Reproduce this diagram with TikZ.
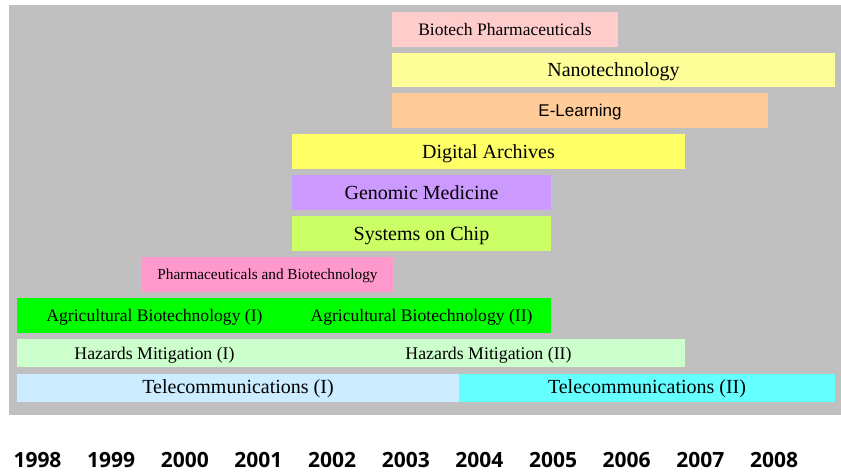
\documentclass[tikz,border=0pt]{standalone}
\usepackage{fontspec}
\setmainfont{Liberation Serif}
\newfontfamily\yearfont{Open Sans}
\newfontfamily\labelsans{Liberation Sans}

\definecolor{panelgray}{HTML}{C0C0C0}
\definecolor{biopink}{HTML}{FFCCCC}
\definecolor{nanoyellow}{HTML}{FFFF99}
\definecolor{learnorange}{HTML}{FFCC99}
\definecolor{archyellow}{HTML}{FFFF66}
\definecolor{genviolet}{HTML}{CC99FF}
\definecolor{chiplime}{HTML}{CCFF66}
\definecolor{pharmpink}{HTML}{FF99CC}
\definecolor{agrigreen}{HTML}{00FF00}
\definecolor{hazgreen}{HTML}{CCFFCC}
\definecolor{telblue}{HTML}{CCECFF}
\definecolor{telcyan}{HTML}{66FFFF}

\begin{document}
\begin{tikzpicture}[x=1pt, y=-1pt,
  bar/.style={rectangle, inner sep=0pt, text depth=0pt, text=black, font=\fontsize{20}{22}\selectfont},
  year/.style={font=\yearfont\bfseries\fontsize{21}{23}\selectfont}]

\useasboundingbox (0,0) rectangle (841,473);

% GRAY PANEL
\fill[panelgray] (9,5) rectangle (841,415);

% Top rows, starting 2003
\node[bar, fill=biopink, minimum width=226pt, minimum height=35pt,
  font=\fontsize{17.5}{20}\selectfont] (biopharm) at (505,29.5) {Biotech Pharmaceuticals};
\node[bar, fill=nanoyellow, minimum width=443pt, minimum height=34pt] (nano) at (613.5,70) {Nanotechnology};
\node[bar, fill=learnorange, minimum width=376pt, minimum height=35pt,
  font=\labelsans\fontsize{17}{19}\selectfont] (elearn) at (580,110.5) {E-Learning};

% Rows starting 2001/2002
\node[bar, fill=archyellow, minimum width=393pt, minimum height=35pt] (archives) at (488.5,151.5) {Digital Archives};
\node[bar, fill=genviolet, minimum width=259pt, minimum height=35pt] (genomic) at (421.5,192.5) {Genomic Medicine};
\node[bar, fill=chiplime, minimum width=259pt, minimum height=35pt] (chip) at (421.5,233.5) {Systems on Chip};

% Pharmaceuticals row
\node[bar, fill=pharmpink, minimum width=251pt, minimum height=35pt,
  font=\fontsize{15.3}{17}\selectfont] (pharma) at (267.5,274.5) {Pharmaceuticals and Biotechnology};

% Agricultural biotechnology, two phases
\node[bar, fill=agrigreen, minimum width=275pt, minimum height=35pt,
  font=\fontsize{17.6}{20}\selectfont] (agrione) at (154.5,315.5) {Agricultural Biotechnology (I)};
\node[bar, fill=agrigreen, minimum width=259pt, minimum height=35pt,
  font=\fontsize{17.6}{20}\selectfont] (agritwo) at (421.5,315.5) {Agricultural Biotechnology (II)};

% Hazards mitigation, two phases
\node[bar, fill=hazgreen, minimum width=275pt, minimum height=28pt,
  font=\fontsize{17.8}{20}\selectfont] (hazone) at (154.5,353) {Hazards Mitigation (I)};
\node[bar, fill=hazgreen, minimum width=393pt, minimum height=28pt,
  font=\fontsize{17.8}{20}\selectfont] (haztwo) at (488.5,353) {Hazards Mitigation (II)};

% Telecommunications, two phases
\node[bar, fill=telblue, minimum width=442pt, minimum height=28pt, text depth=3pt,
  font=\fontsize{20}{22}\selectfont] (telone) at (238,388) {Telecommunications (I)};
\node[bar, fill=telcyan, minimum width=376pt, minimum height=28pt, text depth=3pt,
  font=\fontsize{20}{22}\selectfont] (teltwo) at (647,388) {Telecommunications (II)};

% YEAR AXIS
\foreach \yr [count=\i from 0] in {1998,...,2008}
  \node[year, anchor=base] (y\yr) at ({37.5+73.65*\i},467) {\yr};

\end{tikzpicture}
\end{document}
